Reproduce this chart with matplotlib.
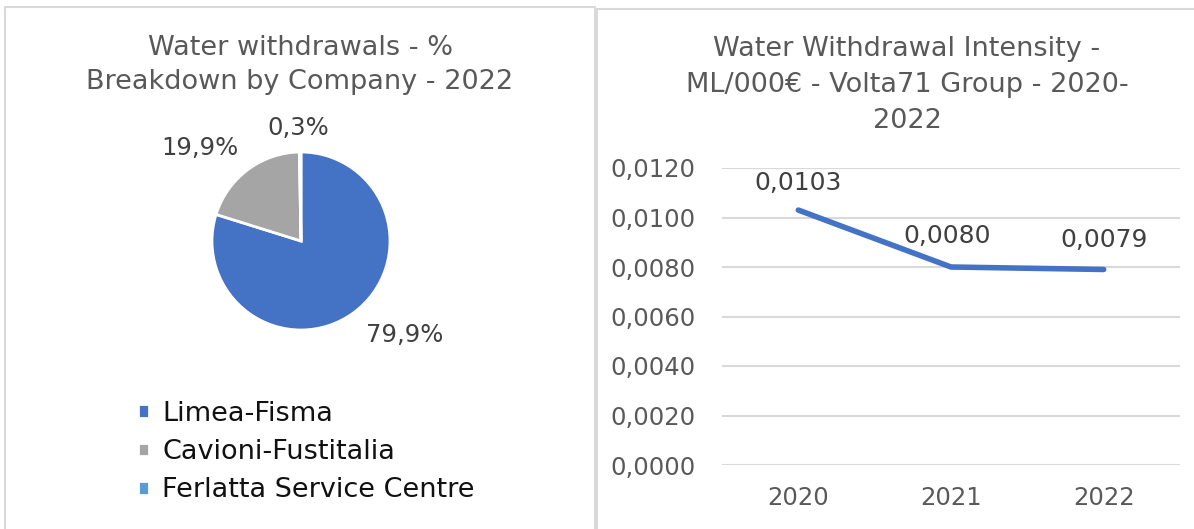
import matplotlib
matplotlib.use("Agg")
import matplotlib.pyplot as plt
from matplotlib.patches import Rectangle

# ---------------- data ----------------
companies = ["Limea-Fisma", "Cavioni-Fustitalia", "Ferlatta Service Centre"]
shares = [79.9, 19.9, 0.3]
share_labels = ["79,9%", "19,9%", "0,3%"]

years = ["2020", "2021", "2022"]
intensity = [0.0103, 0.0080, 0.0079]
intensity_labels = ["0,0103", "0,0080", "0,0079"]
y_ticks = [0.0, 0.002, 0.004, 0.006, 0.008, 0.010, 0.012]

pie_colors = ["#4472C4", "#A5A5A5", "#5B9BD5"]
line_color = "#4472C4"
text_gray = "#595959"
grid_gray = "#D9D9D9"

W, H = 1194, 529
plt.rcParams['font.family'] = ['DejaVu Sans']
fig = plt.figure(figsize=(W / 100, H / 100), dpi=100)
fig.patch.set_facecolor("white")

def fx(px):
    return px / W

def fy(py):
    return 1 - py / H

PT = 100 / 72  # px per point

# panel borders
fig.add_artist(Rectangle((fx(5), fy(535)), fx(590), (535 - 7) / H, transform=fig.transFigure,
                         fill=False, edgecolor=grid_gray, lw=1.5))
fig.add_artist(Rectangle((fx(597), fy(535)), fx(610), (535 - 9) / H, transform=fig.transFigure,
                         fill=False, edgecolor=grid_gray, lw=1.5))

# ---------------- pie ----------------
cx, cy, r = 301, 241, 89
axp = fig.add_axes([fx(cx - r), fy(cy + r), fx(2 * r), 2 * r / H])
wedges, _ = axp.pie(shares, colors=pie_colors, startangle=90, counterclock=False,
                    wedgeprops=dict(edgecolor="white", linewidth=2), radius=1)
axp.set_xlim(-1, 1)
axp.set_ylim(-1, 1)
axp.set_aspect("auto")
axp.axis("off")

# label positions in pie data units (relative to the pie radius)
pie_label_pos = [(104 / r, -94 / r), (-101 / r, 93 / r), (-3 / r, 113 / r)]
for (lx, ly), txt in zip(pie_label_pos, share_labels):
    axp.text(lx, ly, txt, ha="center", va="center", fontsize=17.5, color="#404040", clip_on=False)

fig.text(fx(300), fy(65), "Water withdrawals - %\nBreakdown by Company - 2022", ha="center",
         va="center", fontsize=19.5, color=text_gray, linespacing=1.42)

leg = fig.legend(wedges, companies, loc="upper left", bbox_to_anchor=(fx(138), fy(401)),
                 frameon=False, fontsize=19.5, handlelength=0.4, handleheight=0.4,
                 handletextpad=0.5, labelspacing=0.45, borderpad=0, borderaxespad=0)
for t in leg.get_texts():
    t.set_color("#111111")

# ---------------- line ----------------
left_px, right_px, top_px, bot_px = 722, 1180, 168, 465
axl = fig.add_axes([fx(left_px), fy(bot_px), fx(right_px - left_px), (bot_px - top_px) / H])
xs = list(range(len(years)))
axl.plot(xs, intensity, color=line_color, lw=4, solid_capstyle="round", solid_joinstyle="round",
         zorder=3)
axl.set_xlim(-0.5, len(years) - 0.5)
axl.set_ylim(0, 0.012)
axl.set_yticks(y_ticks)
axl.set_yticklabels([f"{v:.4f}".replace(".", ",") for v in y_ticks])
axl.set_xticks(xs)
axl.set_xticklabels(years)
axl.tick_params(length=0, labelsize=17.5, labelcolor=text_gray)
axl.tick_params(axis="y", pad=19)
axl.tick_params(axis="x", pad=15)
for s in axl.spines.values():
    s.set_visible(False)
axl.grid(axis="y", color=grid_gray, lw=1.5)
axl.set_axisbelow(True)

label_offsets_px = [(0, 27), (-4, 31), (0, 29)]
for x, v, txt, (ox, oy) in zip(xs, intensity, intensity_labels, label_offsets_px):
    axl.annotate(txt, (x, v), xytext=(ox / PT, oy / PT), textcoords="offset points", ha="center",
                 va="center", fontsize=18, color="#404040")

fig.text(fx(907), fy(85), "Water Withdrawal Intensity -\nML/000€ - Volta71 Group - 2020-\n2022",
         ha="center", va="center", fontsize=19.5, color=text_gray, linespacing=1.48)

fig.savefig("out.png", dpi=100, facecolor="white")
